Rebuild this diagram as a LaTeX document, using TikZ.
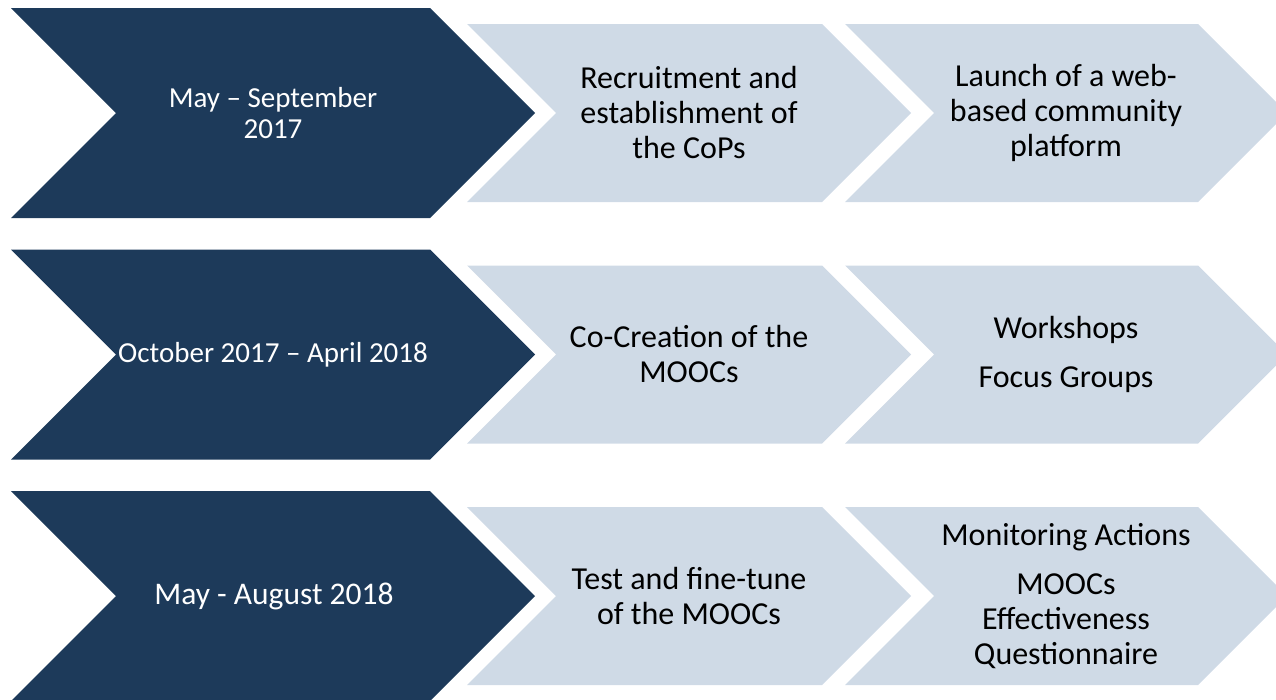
\documentclass[tikz,border=0pt]{standalone}
\usepackage{fontspec}
\setmainfont{Carlito}
\definecolor{navy}{HTML}{1D3A5A}
\definecolor{paleblue}{HTML}{CFDAE6}
% chevron: style, left x, corner x, centre y, half height (45 degree points)
\newcommand\drawchevron[5]{%
  \fill[#1] (#2,#4-#5) -- (#3,#4-#5) -- (#3+#5,#4) -- (#3,#4+#5)
    -- (#2,#4+#5) -- (#2+#5,#4) -- cycle;}
\begin{document}
\begin{tikzpicture}[x=1pt,y=-1pt,
  darkchev/.style={fill=navy},
  lightchev/.style={fill=paleblue},
  datetext/.style={text=white, align=center, inner sep=0pt,
    font=\fontsize{29}{31.5}\selectfont},
  steptext/.style={text=black, align=center, inner sep=0pt,
    font=\fontsize{32}{35}\selectfont}]
\useasboundingbox (0,0) rectangle (1276,699);
\clip (0,0) rectangle (1276,699);

% row shapes
\foreach \yc in {113,354.5,596}{
  \drawchevron{darkchev}{11}{430}{\yc}{105}
  \drawchevron{lightchev}{467}{822}{\yc}{89}
  \drawchevron{lightchev}{845}{1198}{\yc}{89}
}

% row 1
\node[datetext] (d1) at (273,113) {May – September\\2017};
\node[steptext] (s11) at (689,113) {Recruitment and\\establishment of\\the CoPs};
\node[steptext] (s12) at (1066,113) {Launch of a web-\\based community\\platform};

% row 2
\node[datetext] (d2) at (273,354.5) {October 2017 – April 2018};
\node[steptext] (s21) at (689,354.5) {Co-Creation of the\\MOOCs};
\node[steptext] (s22) at (1066,354.5) {Workshops\\[14pt]Focus Groups};

% row 3
\node[datetext, font=\fontsize{31.5}{34}\selectfont] (d3) at (274,596) {May - August 2018};
\node[steptext] (s31) at (689,596) {Test and fine-tune\\of the MOOCs};
\node[steptext] (s32) at (1066,596) {Monitoring Actions\\[14pt]MOOCs\\Effectiveness\\Questionnaire};
\end{tikzpicture}
\end{document}
